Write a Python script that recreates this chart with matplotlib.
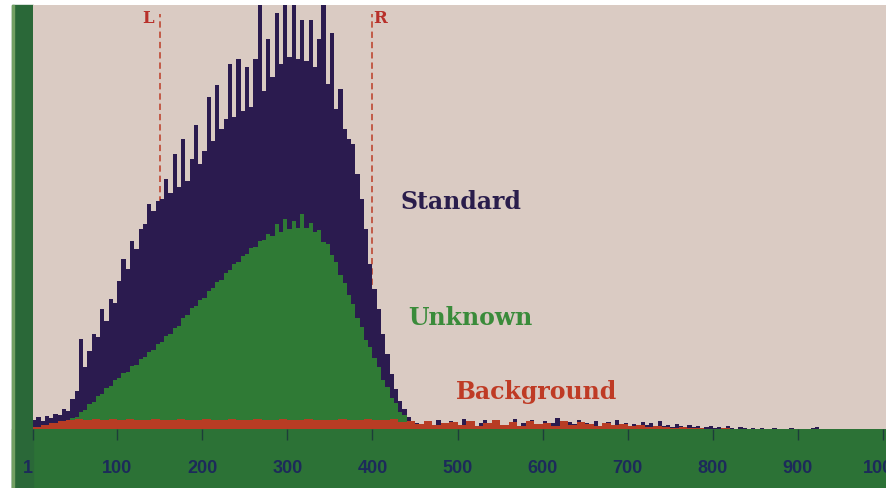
import numpy as np
import matplotlib.pyplot as plt
from matplotlib.patches import Rectangle

# counts per 5-channel bin, channels 0..1000
standard = [90, 120, 80, 130, 110, 150, 140, 200, 180, 300,
            380, 900, 620, 780, 950, 920, 1200, 1080, 1300, 1260,
            1480, 1700, 1600, 1880, 1800, 2000, 2050, 2250, 2180, 2280,
            2300, 2500, 2360, 2750, 2420, 2900, 2480, 2700, 3040, 2650,
            2780, 3320, 2880, 3440, 3000, 3100, 3650, 3120, 3700, 3180,
            3620, 3220, 3700, 4300, 3380, 3900, 3520, 4160, 3650, 4400,
            3720, 4400, 3700, 4090, 3680, 4090, 3620, 3900, 4400, 3450,
            3960, 3200, 3400, 3000, 2900, 2850, 2550, 2300, 2000, 1650,
            1400, 1200, 950, 750, 550, 400, 280, 200, 120, 80,
            60, 50, 40, 70, 30, 90, 50, 20, 80, 60,
            30, 100, 40, 70, 20, 60, 90, 30, 50, 80,
            40, 20, 70, 100, 30, 60, 40, 90, 20, 50,
            80, 30, 60, 110, 40, 20, 70, 50, 90, 30,
            60, 40, 80, 20, 50, 70, 30, 90, 40, 60,
            30, 50, 20, 70, 40, 60, 20, 80, 30, 40,
            20, 50, 30, 10, 40, 20, 30, 10, 20, 30,
            10, 20, 0, 30, 10, 0, 20, 10, 0, 10,
            0, 10, 0, 0, 10, 0, 0, 0, 10, 0,
            0, 0, 0, 10, 20, 0, 0, 0, 0, 0,
            0, 0, 0, 0, 0, 0, 0, 0, 0, 0]

# counts per 5-channel bin, channels 0..460
unknown = [0, 0, 0, 0, 0, 10, 30, 60, 70, 110,
           120, 170, 190, 250, 270, 330, 350, 410, 430, 490,
           510, 560, 570, 630, 640, 700, 720, 770, 790, 850,
           870, 930, 950, 1010, 1030, 1110, 1140, 1210, 1230, 1290,
           1310, 1380, 1410, 1470, 1490, 1560, 1590, 1650, 1670, 1730,
           1750, 1810, 1820, 1880, 1890, 1950, 1930, 2050, 1970, 2100,
           2000, 2080, 2010, 2150, 2010, 2060, 1970, 1990, 1870, 1850,
           1740, 1670, 1540, 1460, 1340, 1250, 1110, 1020, 890, 820,
           710, 620, 490, 420, 310, 260, 170, 140, 70, 60, 20, 10]

# counts per 10-channel bin, channels 0..1000
background = [20, 40, 60, 80, 95, 100, 90, 105, 95, 100,
              90, 105, 95, 90, 100, 95, 90, 105, 90, 95,
              100, 90, 95, 105, 90, 95, 100, 90, 95, 100,
              90, 95, 100, 90, 95, 90, 100, 95, 90, 100,
              95, 90, 100, 70, 80, 50, 80, 40, 60, 70,
              40, 80, 30, 60, 90, 40, 70, 30, 80, 50,
              60, 30, 80, 40, 70, 50, 30, 60, 40, 50,
              30, 40, 20, 30, 20, 10, 20, 10, 10, 0,
              0, 10, 0, 0, 0, 0, 0, 0, 0, 0,
              0, 0, 0, 0, 0, 0, 0, 0, 0, 0]

ticks = [1, 100, 200, 300, 400, 500, 600, 700, 800, 900, 1000]
tick_labels = ['1', '100', '200', '300', '400', '500', '600', '700', '800', '900', '1000']
markers = {'L': 150, 'R': 400}

bg = '#dacbc3'
band = '#2c7236'
navy = '#2b1b4f'
green = '#2f7a35'
red = '#b83c24'

W, H = 886, 488
fig = plt.figure(figsize=(W / 100, H / 100), dpi=100, facecolor='white')
fig.patches.append(Rectangle((12 / W, 0), (W - 12) / W, 59 / H, transform=fig.transFigure,
                             color=band, zorder=-5))
fig.patches.append(Rectangle((12 / W, 0), 21 / W, 483 / H, transform=fig.transFigure,
                             color='#2a6838', zorder=-5))
fig.patches.append(Rectangle((12 / W, 0), 2 / W, 483 / H, transform=fig.transFigure,
                             color='#72a063', zorder=-5))

ax = fig.add_axes([33 / W, 59 / H, 853 / W, 424 / H])
ax.set_facecolor(bg)
ax.set_xlim(1.2, 1003.5)
ax.set_ylim(0, 4240)

ax.stairs(standard, np.arange(len(standard) + 1) * 5, fill=True, color=navy, zorder=2)
ax.stairs(unknown, np.arange(len(unknown) + 1) * 5, fill=True, color=green, zorder=3)
ax.stairs(background, np.arange(len(background) + 1) * 10, fill=True, color=red, zorder=4)

for name, ch in markers.items():
    ax.plot([ch, ch], [0, 4150], color='#c0523e', lw=1.3, ls=(0, (3.5, 2.2)), zorder=1)
dx = {'L': -14, 'R': 9}
for name, ch in markers.items():
    ax.text(ch + dx[name], 4110, name, color='#b8302a', fontsize=12, fontweight='bold',
            family='DejaVu Serif', ha='center', va='center', zorder=5)

ax.text(504, 2270, 'Standard', color='#2a1d4c', fontsize=17, fontweight='bold',
        family='DejaVu Serif', ha='center', va='center')
ax.text(515, 1110, 'Unknown', color='#3a8b3a', fontsize=17, fontweight='bold',
        family='DejaVu Serif', ha='center', va='center')
ax.text(593, 370, 'Background', color='#bf3b25', fontsize=17, fontweight='bold',
        family='DejaVu Serif', ha='center', va='center')

for s in ax.spines.values():
    s.set_visible(False)
ax.set_yticks([])
ax.set_xticks(ticks, tick_labels)
ax.tick_params(axis='x', length=8, width=1, color='#1d3d3a', pad=14, labelcolor='#1c2a5a')
for lbl in ax.get_xticklabels():
    lbl.set_family(['Liberation Sans', 'DejaVu Sans'])
    lbl.set_fontweight('bold')
    lbl.set_fontsize(13)
ax.get_xticklabels()[0].set_ha('right')

fig.savefig('out.png', dpi=100, facecolor='white')
